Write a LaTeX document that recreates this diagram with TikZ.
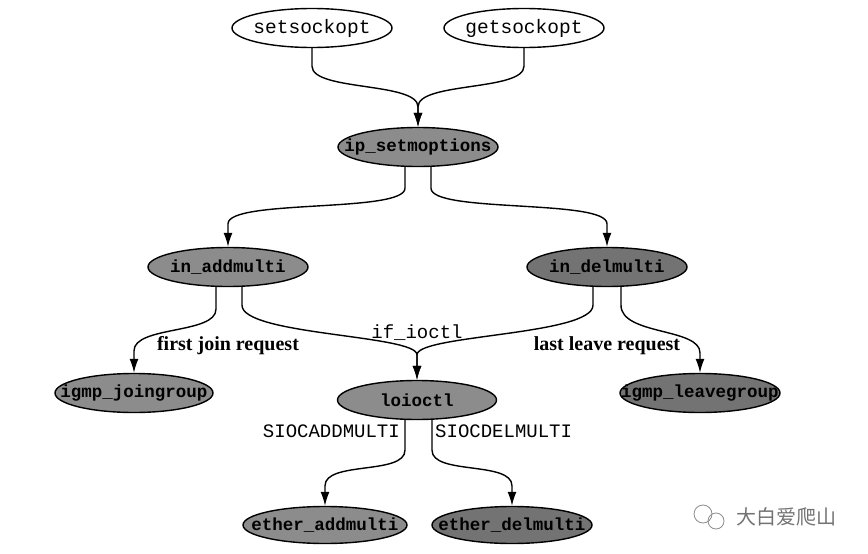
\documentclass[tikz,border=0pt]{standalone}
\usepackage{fontspec}
\setmainfont{Liberation Serif}
\setmonofont{Liberation Mono}
\newfontfamily\cjkfont{Noto Sans CJK SC}
\usetikzlibrary{shapes.geometric,arrows.meta,calc}
\newcommand\ovtxt[1]{\makebox[0pt]{#1}}
\tikzset{
  oval/.style={ellipse, draw, line width=1.4pt, minimum width=160pt, minimum height=39pt, inner sep=0pt, font=\fontsize{17.5}{20}\selectfont\ttfamily\bfseries},
  whiteoval/.style={oval, fill=white, font=\fontsize{19.5}{20}\selectfont\ttfamily},
  grayoval/.style={oval, fill=black!45},
  darkoval/.style={oval, fill=black!55},
  edge/.style={line width=1.4pt, -{Latex[length=14pt,width=9pt]}},
  lbl/.style={font=\fontsize{20}{22}\selectfont\bfseries},
  mono/.style={font=\fontsize{19}{20}\selectfont\ttfamily},
  wm/.style={text=black!55, font=\fontsize{20}{22}\selectfont\cjkfont}
}
\begin{document}
\begin{tikzpicture}[x=1pt,y=-1pt]
\useasboundingbox (0,0) rectangle (868,554);
\node[whiteoval] (setsock) at (312,28) {\ovtxt{setsockopt}};
\node[whiteoval] (getsock) at (524,28) {\ovtxt{getsockopt}};
\node[grayoval] (ipset) at (418,147) {\ovtxt{ip\_setmoptions}};
\node[grayoval] (inadd) at (228,267) {\ovtxt{in\_addmulti}};
\node[darkoval] (indel) at (607,267) {\ovtxt{in\_delmulti}};
\node[grayoval, minimum width=158pt] (igmpj) at (134,393) {\ovtxt{igmp\_joingroup}};
\node[grayoval, minimum width=159pt] (loioctl) at (417,400) {\ovtxt{loioctl}};
\node[darkoval] (igmpl) at (700,393) {\ovtxt{igmp\_leavegroup}};
\node[grayoval, minimum width=164pt, minimum height=37pt] (etheradd) at (325,525) {\ovtxt{ether\_addmulti}};
\node[darkoval, minimum width=160pt, minimum height=37pt] (etherdel) at (512,525) {\ovtxt{ether\_delmulti}};

\draw[edge] (setsock.south) -- ++(0,18) .. controls +(0,25) and +(0,-25) .. ($(ipset.north)+(0,-20)$) -- (ipset.north);
\draw[edge] (getsock.south) -- ++(0,18) .. controls +(0,25) and +(0,-25) .. ($(ipset.north)+(0,-20)$) -- (ipset.north);
\draw[edge] ($(ipset.south)+(-13,0)$) -- ++(0,21) .. controls +(0,25) and +(0,-25) .. ($(inadd.north)+(0,-23)$) -- (inadd.north);
\draw[edge] ($(ipset.south)+(13,0)$) -- ++(0,21) .. controls +(0,25) and +(0,-25) .. ($(indel.north)+(0,-23)$) -- (indel.north);
\draw[edge] ($(inadd.south)+(-12,0)$) -- ++(0,22) .. controls +(0,25) and +(0,-25) .. ($(igmpj.north)+(0,-22)$) -- (igmpj.north);
\draw[edge] ($(inadd.south)+(14,0)$) -- ++(0,18) .. controls +(0,30) and +(0,-20) .. ($(loioctl.north)+(0,-25)$) -- (loioctl.north);
\draw[edge] ($(indel.south)+(-14,0)$) -- ++(0,18) .. controls +(0,30) and +(0,-20) .. ($(loioctl.north)+(0,-25)$) -- (loioctl.north);
\draw[edge] ($(indel.south)+(14,0)$) -- ++(0,18) .. controls +(0,30) and +(0,-25) .. ($(igmpl.north)+(0,-20)$) -- (igmpl.north);
\draw[edge] ($(loioctl.south)+(-12,0)$) -- ++(0,30) .. controls +(0,25) and +(0,-25) .. ($(etheradd.north)+(0,-20)$) -- (etheradd.north);
\draw[edge] ($(loioctl.south)+(15,0)$) -- ++(0,30) .. controls +(0,25) and +(0,-25) .. ($(etherdel.north)+(0,-20)$) -- (etherdel.north);

\node[mono] (ifioctl) at (417,333) {if\_ioctl};
\node[lbl] (firstjoin) at (228,346) {first join request};
\node[lbl] (lastleave) at (607,346) {last leave request};
\node[mono, anchor=east, inner sep=0pt] (siocadd) at (400,431) {SIOCADDMULTI};
\node[mono, anchor=west, inner sep=0pt] (siocdel) at (435,431) {SIOCDELMULTI};

\draw[black!45, line width=0.8pt] (703,514) circle (9);
\draw[black!45, line width=0.8pt] (716,521) circle (8);
\node[wm, anchor=west] (wmark) at (733,517) {大白爱爬山};
\end{tikzpicture}
\end{document}
